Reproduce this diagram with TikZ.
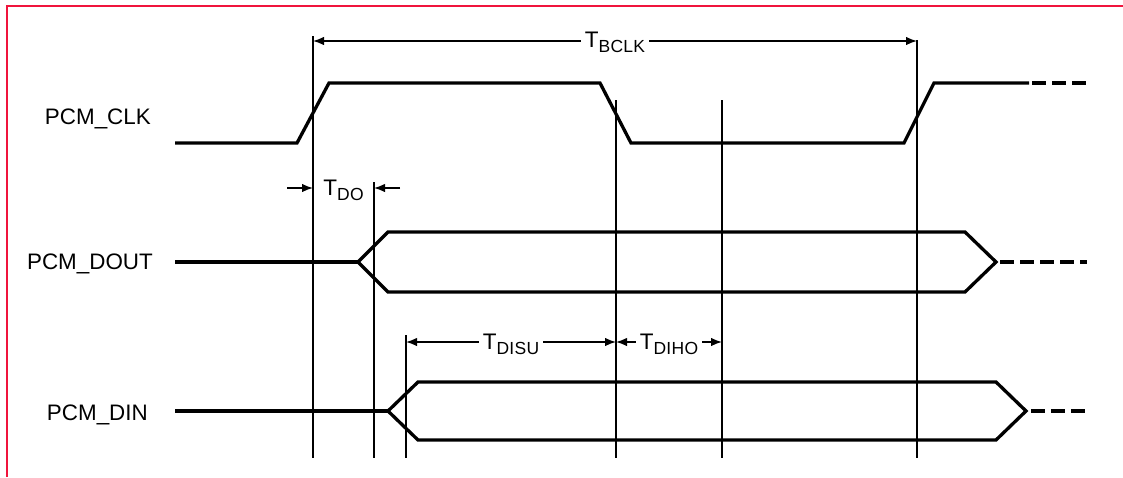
\documentclass[tikz,border=0pt]{standalone}
\usepackage{fontspec}
\setmainfont{Liberation Sans}
\newfontfamily\subf[LetterSpace=1.5]{Liberation Sans}
\usetikzlibrary{arrows.meta}
\definecolor{framered}{RGB}{240,20,60}
\newcommand{\tlab}[1]{{\fontsize{22.5}{25}\selectfont T}\lower5pt\hbox{\fontsize{17.5}{19}\subf #1}}
\begin{document}
\begin{tikzpicture}[x=1pt,y=-1pt,
  sig/.style={line width=3.3pt, line join=miter},
  gridline/.style={line width=1.4pt},
  dim/.style={line width=1.4pt, -{Latex[length=11pt,width=8.5pt]}},
  siglab/.style={inner sep=0pt, anchor=base east, font=\fontsize{22.4}{26}\selectfont},
  tl/.style={inner xsep=4pt, inner ysep=0pt, anchor=base},
  dsh/.style={line width=3.3pt, dash pattern=on 14pt off 6pt},
  frame/.style={draw=framered, line width=2pt}]
\useasboundingbox (0,0) rectangle (1123,477);
\draw[frame] (7,477) -- (7,6) -- (1123,6);
% signal labels
\node[siglab] (lclk) at (151,124) {PCM\_CLK};
\node[siglab] (ldout) at (153,269) {PCM\_DOUT};
\node[siglab] (ldin) at (148,420) {PCM\_DIN};
% vertical reference lines
\draw[gridline] (313,36) -- (313,458);
\draw[gridline] (374,182) -- (374,458);
\draw[gridline] (406,335) -- (406,458);
\draw[gridline] (616,100) -- (616,458);
\draw[gridline] (722,100) -- (722,458);
\draw[gridline] (917,40) -- (917,458);
% PCM_CLK
\draw[sig] (175,143) -- (297,143) -- (329,83) -- (600,83) -- (631,143) -- (904,143) -- (934,83) -- (1029,83);
\draw[dsh, dash phase=-3pt] (1029,83) -- (1087,83);
% PCM_DOUT
\draw[sig] (175,262) -- (358,262);
\draw[sig] (358,262) -- (388,232) -- (965,232) -- (996,262) -- (965,292) -- (388,292) -- cycle;
\draw[dsh, dash phase=-4pt] (996,262) -- (1087,262);
% PCM_DIN
\draw[sig] (175,411) -- (388,411);
\draw[sig] (388,411) -- (418,382) -- (996,382) -- (1026,411) -- (996,440) -- (418,440) -- cycle;
\draw[dsh, dash phase=-5pt] (1026,411) -- (1087,411);
% T_BCLK
\coordinate (bL) at (313,41);
\coordinate (bR) at (917,41);
\node[tl] (tbclk) at (615,47) {\tlab{BCLK}};
\draw[dim] (tbclk.west |- bL) -- (bL);
\draw[dim] (tbclk.east |- bR) -- (bR);
% T_DO
\coordinate (dL) at (313,188);
\coordinate (dR) at (374,188);
\coordinate (dL0) at (287,188);
\coordinate (dR0) at (400,188);
\node[tl] (tdo) at (343.5,195) {\tlab{DO}};
\draw[dim] (dL0) -- (dL);
\draw[dim] (dR0) -- (dR);
% T_DISU
\coordinate (sL) at (406,342);
\coordinate (sR) at (616,342);
\node[tl] (tdisu) at (511,349) {\tlab{DISU}};
\draw[dim] (tdisu.west |- sL) -- (sL);
\draw[dim] (tdisu.east |- sR) -- (sR);
% T_DIHO
\coordinate (hL) at (616,342);
\coordinate (hR) at (722,342);
\node[tl] (tdiho) at (669,349) {\tlab{DIHO}};
\draw[dim] (tdiho.west |- hL) -- (hL);
\draw[dim] (tdiho.east |- hR) -- (hR);
\end{tikzpicture}
\end{document}
